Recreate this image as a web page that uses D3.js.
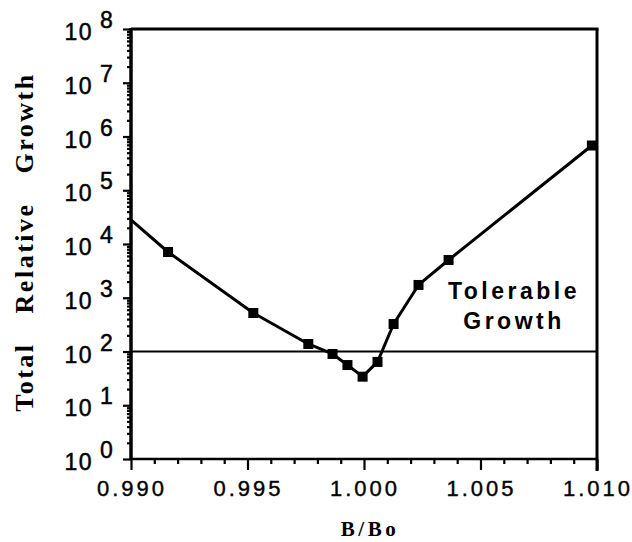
<!DOCTYPE html>
<html>
<head>
<meta charset="utf-8">
<script src="https://cdn.jsdelivr.net/npm/d3@7/dist/d3.min.js"></script>
<style>
  html, body { margin: 0; padding: 0; background: #fff; }
  svg { display: block; }
</style>
</head>
<body>
<svg id="chart" width="632" height="542"></svg>
<script>
// ---- data ----
const bRatio = [0.9900, 0.99159, 0.99525, 0.99761, 0.99865, 0.99929, 0.99994, 1.00058, 1.00127, 1.00234, 1.00363, 1.00978];
const growth = [28000, 7100, 520, 138, 90, 56, 34, 64, 325, 1730, 5040, 680000];
// first point lies on the axis and carries no visible marker
const hasMarker = [false, true, true, true, true, true, true, true, true, true, true, true];
const tolerableLevel = 100;
const xTicks = [0.990, 0.995, 1.000, 1.005, 1.010];
const xTickLabels = ["0.990", "0.995", "1.000", "1.005", "1.010"];
const yExponents = [0, 1, 2, 3, 4, 5, 6, 7, 8];
const xTitle = "B/Bo";
const yTitleWords = ["Total", "Relative", "Growth"];
const noteLines = ["Tolerable", "Growth"];

const svg = d3.select("#chart");
const pLeft = 131, pRight = 597, pTop = 29, pBottom = 459;

const x = d3.scaleLinear().domain([0.990, 1.010]).range([pLeft, pRight]);
const y = d3.scaleLog().domain([1, 1e8]).range([pBottom, pTop]);

const data = bRatio.map((b, i) => ({ b, g: growth[i], m: hasMarker[i] }));

// ---- Y axis (left) with log minor ticks ----
const yMinor = [];
for (let e = 0; e < 8; e++) for (let k = 2; k <= 9; k++) yMinor.push(k * Math.pow(10, e));
const yMajor = yExponents.map(e => Math.pow(10, e));

const yAxisMinor = d3.axisLeft(y).tickValues(yMinor).tickSize(4).tickFormat("");
const yAxisMajor = d3.axisLeft(y).tickValues(yMajor).tickSize(8).tickFormat("");
const gyMin = svg.append("g").attr("transform", `translate(${pLeft},0)`).call(yAxisMinor);
const gyMaj = svg.append("g").attr("transform", `translate(${pLeft},0)`).call(yAxisMajor);
[gyMin, gyMaj].forEach(g => {
  g.select(".domain").remove();
  g.selectAll("line").attr("stroke", "#000").attr("stroke-width", 2.2);
});

// Y tick labels "10^n"
const yLab = svg.append("g");
yExponents.forEach(e => {
  const yy = y(Math.pow(10, e));
  yLab.append("text")
    .attr("x", 93).attr("y", yy + 11)
    .attr("text-anchor", "end")
    .attr("font-family", "Liberation Sans, Arial, sans-serif")
    .attr("font-size", 23).attr("letter-spacing", 1.5)
    .attr("stroke", "#000").attr("stroke-width", 0.5)
    .text("10");
  yLab.append("text")
    .attr("x", 100).attr("y", yy - 1)
    .attr("font-family", "Liberation Sans, Arial, sans-serif")
    .attr("font-size", 23)
    .attr("stroke", "#000").attr("stroke-width", 0.5)
    .text(String(e));
});

// ---- X axis (bottom) ----
const xMinor = d3.range(0, 21).map(i => 0.990 + i * 0.001).filter(v => !xTicks.some(t => Math.abs(t - v) < 1e-9));
const xAxisMinor = d3.axisBottom(x).tickValues(xMinor).tickSize(5).tickFormat("");
const xAxisMajor = d3.axisBottom(x).tickValues(xTicks).tickSize(11).tickFormat("");
const gxMin = svg.append("g").attr("transform", `translate(0,${pBottom})`).call(xAxisMinor);
const gxMaj = svg.append("g").attr("transform", `translate(0,${pBottom})`).call(xAxisMajor);
[gxMin, gxMaj].forEach(g => {
  g.select(".domain").remove();
  g.selectAll("line").attr("stroke", "#000").attr("stroke-width", 2.2);
});

svg.append("g").selectAll("text").data(xTicks).join("text")
  .attr("x", d => x(d) + 1).attr("y", 496)
  .attr("text-anchor", "middle")
  .attr("font-family", "Liberation Sans, Arial, sans-serif")
  .attr("font-size", 22).attr("letter-spacing", 3)
  .attr("stroke", "#000").attr("stroke-width", 0.4)
  .text((d, i) => xTickLabels[i]);

// ---- frame ----
svg.append("line").attr("x1", pLeft).attr("x2", pLeft).attr("y1", pTop - 1).attr("y2", pBottom + 1)
  .attr("stroke", "#000").attr("stroke-width", 3.5);
svg.append("line").attr("x1", pLeft).attr("x2", pRight).attr("y1", pBottom).attr("y2", pBottom)
  .attr("stroke", "#000").attr("stroke-width", 2.5);
svg.append("line").attr("x1", pLeft).attr("x2", pRight + 1.5).attr("y1", pTop).attr("y2", pTop)
  .attr("stroke", "#000").attr("stroke-width", 3);
svg.append("line").attr("x1", pRight).attr("x2", pRight).attr("y1", pTop).attr("y2", pBottom + 12)
  .attr("stroke", "#000").attr("stroke-width", 3);

// ---- tolerable growth reference line ----
svg.append("line")
  .attr("x1", pLeft).attr("x2", pRight)
  .attr("y1", y(tolerableLevel)).attr("y2", y(tolerableLevel))
  .attr("stroke", "#000").attr("stroke-width", 1.8);

// ---- curve ----
const line = d3.line().x(d => x(d.b)).y(d => y(d.g));
svg.append("path").datum(data).attr("d", line)
  .attr("fill", "none").attr("stroke", "#000").attr("stroke-width", 3)
  .attr("stroke-linejoin", "round");

// markers
const ms = 10;
svg.append("g").selectAll("rect").data(data.filter(d => d.m)).join("rect")
  .attr("x", d => x(d.b) - ms / 2).attr("y", d => y(d.g) - ms / 2)
  .attr("width", ms).attr("height", ms).attr("fill", "#000");

// ---- annotation ----
noteLines.forEach((t, i) => {
  svg.append("text")
    .attr("x", 514).attr("y", 299 + i * 30)
    .attr("text-anchor", "middle")
    .attr("font-family", "Liberation Sans, Arial, sans-serif")
    .attr("font-weight", "bold")
    .attr("font-size", 23).attr("letter-spacing", 3.5)
    .text(t);
});

// ---- axis titles ----
svg.append("text")
  .attr("x", 370).attr("y", 536)
  .attr("text-anchor", "middle")
  .attr("font-family", "Liberation Serif, Times New Roman, serif")
  .attr("font-weight", "bold").attr("font-size", 21).attr("letter-spacing", 3.5)
  .text(xTitle);

svg.append("text")
  .attr("transform", "translate(33,242) rotate(-90)")
  .attr("text-anchor", "middle")
  .attr("font-family", "Liberation Serif, Times New Roman, serif")
  .attr("font-weight", "bold").attr("font-size", 26).attr("letter-spacing", 2.5)
  .attr("word-spacing", 20)
  .text(yTitleWords.join(" "));
</script>
</body>
</html>
